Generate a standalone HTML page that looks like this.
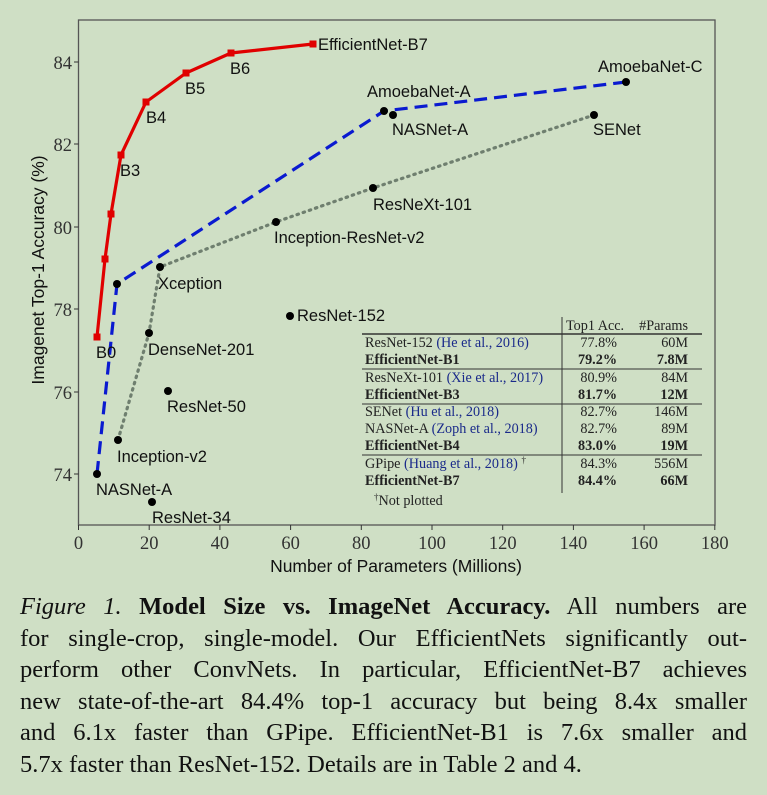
<!DOCTYPE html>
<html><head><meta charset="utf-8"><style>
body{margin:0;width:767px;height:795px;background:#cfdfc5;overflow:hidden;position:relative}
svg{position:absolute;left:0;top:0}
.cap{position:absolute;left:20px;width:727px;font-family:"Liberation Serif",serif;font-size:24.5px;color:#111;text-align:justify;text-align-last:justify;white-space:nowrap;line-height:28px}
</style></head><body>
<svg width="767" height="795" xmlns="http://www.w3.org/2000/svg">
<rect x="78.5" y="20" width="636.5" height="505" fill="none" stroke="#555" stroke-width="1.3"/>
<g font-family="Liberation Serif,serif" font-size="18.5" fill="#333" text-anchor="end">
<text x="72" y="481">74</text><text x="72" y="399">76</text><text x="72" y="316">78</text><text x="72" y="234">80</text><text x="72" y="151">82</text><text x="72" y="69">84</text>
</g>
<g stroke="#333" stroke-width="1">
<line x1="74" y1="474" x2="78.5" y2="474"/><line x1="74" y1="392" x2="78.5" y2="392"/><line x1="74" y1="309" x2="78.5" y2="309"/><line x1="74" y1="227" x2="78.5" y2="227"/><line x1="74" y1="144" x2="78.5" y2="144"/><line x1="74" y1="62" x2="78.5" y2="62"/>
<line x1="78.5" y1="525" x2="78.5" y2="530"/><line x1="149.2" y1="525" x2="149.2" y2="530"/><line x1="219.9" y1="525" x2="219.9" y2="530"/><line x1="290.6" y1="525" x2="290.6" y2="530"/><line x1="361.3" y1="525" x2="361.3" y2="530"/><line x1="432" y1="525" x2="432" y2="530"/><line x1="502.7" y1="525" x2="502.7" y2="530"/><line x1="573.4" y1="525" x2="573.4" y2="530"/><line x1="644.1" y1="525" x2="644.1" y2="530"/><line x1="714.8" y1="525" x2="714.8" y2="530"/>
</g>
<g font-family="Liberation Serif,serif" font-size="18.5" fill="#333" text-anchor="middle">
<text x="78.5" y="549">0</text><text x="149.2" y="549">20</text><text x="219.9" y="549">40</text><text x="290.6" y="549">60</text><text x="361.3" y="549">80</text><text x="432" y="549">100</text><text x="502.7" y="549">120</text><text x="573.4" y="549">140</text><text x="644.1" y="549">160</text><text x="714.8" y="549">180</text>
</g>
<text x="396" y="572" font-family="Liberation Sans,sans-serif" font-size="17.5" text-anchor="middle" fill="#111">Number of Parameters (Millions)</text>
<text transform="translate(44,270) rotate(-90)" font-family="Liberation Sans,sans-serif" font-size="17.5" text-anchor="middle" fill="#111">Imagenet Top-1 Accuracy (%)</text>
<polyline points="118,440 149,333 160,267 276,222 373,188 594,115" fill="none" stroke="#6f7f6f" stroke-width="3.2" stroke-dasharray="1.5,5" stroke-linecap="round"/>
<polyline points="97,474 117,284 384,111 626,82" fill="none" stroke="#0a1ad0" stroke-width="3.2" stroke-dasharray="13,7"/>
<polyline points="97,337 105,259 111,214 121,155 146,102 186,73 231,53 313,44" fill="none" stroke="#e00000" stroke-width="3.2"/>
<g fill="#e00000">
<rect x="93.5" y="333.5" width="7" height="7"/><rect x="101.5" y="255.5" width="7" height="7"/><rect x="107.5" y="210.5" width="7" height="7"/><rect x="117.5" y="151.5" width="7" height="7"/><rect x="142.5" y="98.5" width="7" height="7"/><rect x="182.5" y="69.5" width="7" height="7"/><rect x="227.5" y="49.5" width="7" height="7"/><rect x="309.5" y="40.5" width="7" height="7"/>
</g>
<g fill="#000">
<circle cx="97" cy="474" r="4"/><circle cx="117" cy="284" r="4"/><circle cx="384" cy="111" r="4"/><circle cx="626" cy="82" r="4"/>
<circle cx="118" cy="440" r="4"/><circle cx="149" cy="333" r="4"/><circle cx="160" cy="267" r="4"/><circle cx="276" cy="222" r="4"/><circle cx="373" cy="188" r="4"/><circle cx="594" cy="115" r="4"/>
<circle cx="393" cy="115" r="4"/><circle cx="290" cy="316" r="4"/><circle cx="168" cy="391" r="4"/><circle cx="152" cy="502" r="4"/>
</g>
<g font-family="Liberation Sans,sans-serif" font-size="16.5" fill="#111">
<text x="318" y="50">EfficientNet-B7</text><text x="230" y="74">B6</text><text x="185" y="94">B5</text><text x="146" y="123">B4</text><text x="120" y="176">B3</text><text x="96" y="358">B0</text>
<text x="598" y="72">AmoebaNet-C</text><text x="367" y="97">AmoebaNet-A</text><text x="392" y="135">NASNet-A</text><text x="593" y="135">SENet</text>
<text x="373" y="210">ResNeXt-101</text><text x="274" y="243">Inception-ResNet-v2</text><text x="158" y="289">Xception</text><text x="297" y="321">ResNet-152</text>
<text x="148" y="355">DenseNet-201</text><text x="167" y="412">ResNet-50</text><text x="117" y="462">Inception-v2</text><text x="96" y="495">NASNet-A</text><text x="152" y="523">ResNet-34</text>
</g>
<g stroke="#333">
<line x1="562" y1="317" x2="562" y2="493" stroke-width="1"/>
<line x1="362" y1="334" x2="702" y2="334" stroke-width="1.6"/>
<line x1="362" y1="369" x2="702" y2="369" stroke-width="1"/>
<line x1="362" y1="404" x2="702" y2="404" stroke-width="1"/>
<line x1="362" y1="455" x2="702" y2="455" stroke-width="1"/>
</g>
<g font-family="Liberation Serif,serif" font-size="14.2" fill="#222">
<text x="566" y="330">Top1 Acc.</text><text x="688" y="330" text-anchor="end">#Params</text>
<text x="365" y="347">ResNet-152 <tspan fill="#1a2a8a">(He et al., 2016)</tspan></text>
<text x="365" y="364" font-weight="bold">EfficientNet-B1</text>
<text x="365" y="382">ResNeXt-101 <tspan fill="#1a2a8a">(Xie et al., 2017)</tspan></text>
<text x="365" y="399" font-weight="bold">EfficientNet-B3</text>
<text x="365" y="416">SENet <tspan fill="#1a2a8a">(Hu et al., 2018)</tspan></text>
<text x="365" y="433">NASNet-A <tspan fill="#1a2a8a">(Zoph et al., 2018)</tspan></text>
<text x="365" y="450" font-weight="bold">EfficientNet-B4</text>
<text x="365" y="468">GPipe <tspan fill="#1a2a8a">(Huang et al., 2018)</tspan> <tspan font-size="9" dy="-5">†</tspan></text>
<text x="365" y="485" font-weight="bold">EfficientNet-B7</text>
<text x="374" y="505"><tspan font-size="9" dy="-5">†</tspan><tspan dy="5">Not plotted</tspan></text>
<g text-anchor="end">
<text x="617" y="347">77.8%</text><text x="617" y="364" font-weight="bold">79.2%</text><text x="617" y="382">80.9%</text><text x="617" y="399" font-weight="bold">81.7%</text><text x="617" y="416">82.7%</text><text x="617" y="433">82.7%</text><text x="617" y="450" font-weight="bold">83.0%</text><text x="617" y="468">84.3%</text><text x="617" y="485" font-weight="bold">84.4%</text>
<text x="688" y="347">60M</text><text x="688" y="364" font-weight="bold">7.8M</text><text x="688" y="382">84M</text><text x="688" y="399" font-weight="bold">12M</text><text x="688" y="416">146M</text><text x="688" y="433">89M</text><text x="688" y="450" font-weight="bold">19M</text><text x="688" y="468">556M</text><text x="688" y="485" font-weight="bold">66M</text>
</g></g>
</svg>
<div class="cap" style="top:593px"><i>Figure 1.</i> <b>Model Size vs. ImageNet Accuracy.</b> All numbers are</div>
<div class="cap" style="top:625px">for single-crop, single-model. Our EfficientNets significantly out-</div>
<div class="cap" style="top:656px">perform other ConvNets. In particular, EfficientNet-B7 achieves</div>
<div class="cap" style="top:688px">new state-of-the-art 84.4% top-1 accuracy but being 8.4x smaller</div>
<div class="cap" style="top:719px">and 6.1x faster than GPipe. EfficientNet-B1 is 7.6x smaller and</div>
<div class="cap" style="top:751px;text-align-last:left">5.7x faster than ResNet-152. Details are in Table 2 and 4.</div>
</body></html>
